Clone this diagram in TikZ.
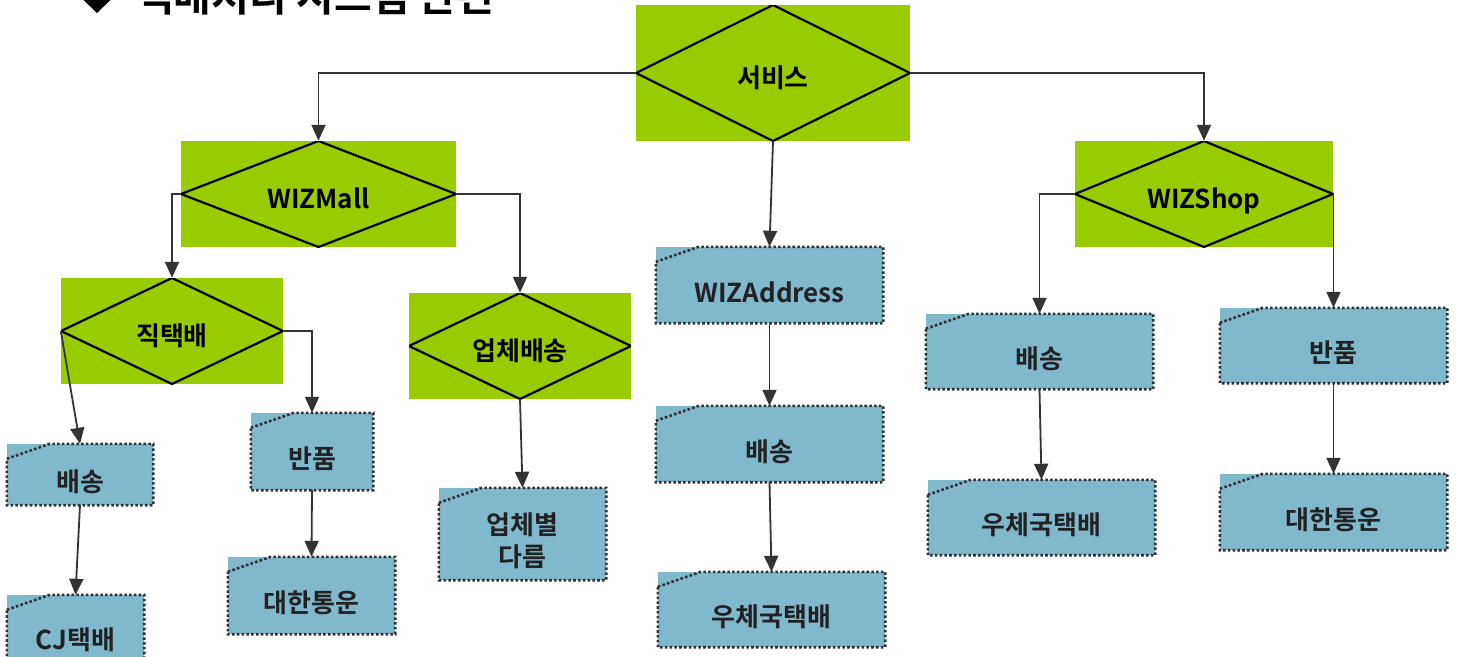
\documentclass[tikz,border=0pt]{standalone}
\usepackage{fontspec}
\setmainfont{Noto Sans CJK KR}[BoldFont={Noto Sans CJK KR Bold}]
\usetikzlibrary{arrows.meta}
\definecolor{dgreen}{HTML}{99CC00}
\definecolor{boxblue}{HTML}{80B8CC}
\definecolor{linegray}{HTML}{333333}
\definecolor{txtdark}{HTML}{222222}
\tikzset{
  decision/.style={rectangle, fill=dgreen, inner sep=0pt, align=center,
    font=\bfseries\fontsize{26}{30}\selectfont, text=black,
    text height=30pt, text depth=2pt,
    path picture={\draw[black, line width=2.2pt]
      (path picture bounding box.north) -- (path picture bounding box.east) --
      (path picture bounding box.south) -- (path picture bounding box.west) -- cycle;}},
  infobase/.style={rectangle, fill=boxblue, inner sep=0pt, align=center,
    font=\bfseries\fontsize{26}{32}\selectfont, text=txtdark},
  infobox/.style={infobase, text height=36pt, text depth=2pt},
  snip/.style={draw=linegray, line width=2.6pt, dash pattern=on 2.6pt off 2.2pt},
  conn/.style={draw=linegray, line width=1.8pt, -{Triangle[width=14pt,length=16pt]}},
}
\newcommand{\snipborder}[1]{%
  \draw[snip] ([yshift=-15pt]#1.north west) -- ([xshift=43pt]#1.north west) -- (#1.north east) -- (#1.south east) -- (#1.south west) -- cycle;}
\begin{document}
\begin{tikzpicture}[x=1pt,y=-1pt]
\useasboundingbox (0,0) rectangle (1458,656);
\clip (0,0) rectangle (1458,656);
\fill[white] (0,0) rectangle (1458,656);
% title (cut off at the top)
\fill[black] (97,-13) -- (110.5,0) -- (97,13) -- (83.5,0) -- cycle;
\node[anchor=base west, inner sep=0pt, font=\bfseries\fontsize{41}{46}\selectfont] (title) at (136,11) {택배처리 시스템 관련};
% decision nodes
\node[decision, minimum width=274pt, minimum height=136pt] (svc) at (773,73) {서비스};
\node[decision, minimum width=275pt, minimum height=106pt] (mall) at (318.5,194) {WIZMall};
\node[decision, minimum width=258pt, minimum height=106pt] (shop) at (1204,194) {WIZShop};
\node[decision, minimum width=222pt, minimum height=106pt] (direct) at (172,331) {직택배};
\node[decision, minimum width=222pt, minimum height=106pt] (vendor) at (520,346) {업체배송};
% info boxes
\node[infobox, minimum width=227pt, minimum height=76pt] (addr) at (769.5,285) {WIZAddress};
\node[infobox, minimum width=227pt, minimum height=76pt] (shipm) at (769.5,444) {배송};
\node[infobox, minimum width=227pt, minimum height=75pt] (postm) at (771.5,609.5) {우체국택배};
\node[infobox, minimum width=227pt, minimum height=75pt] (shipr) at (1039.5,351.5) {배송};
\node[infobox, minimum width=227pt, minimum height=75pt] (postr) at (1041.5,517.5) {우체국택배};
\node[infobox, minimum width=227pt, minimum height=75pt] (retr) at (1333.5,345.5) {반품};
\node[infobox, minimum width=227pt, minimum height=76pt] (kxr) at (1333.5,512) {대한통운};
\node[infobox, minimum width=146pt, minimum height=61pt] (shipl) at (80,474.5) {배송};
\node[infobox, minimum width=137pt, minimum height=74pt] (cj) at (75.5,632) {CJ택배};
\node[infobox, minimum width=122pt, minimum height=77pt] (retl) at (312,451.5) {반품};
\node[infobox, minimum width=167pt, minimum height=77pt] (kxl) at (311.5,595.5) {대한통운};
\node[infobase, minimum width=167pt, minimum height=92pt] (diff) at (522.5,534) {\rule{0pt}{36pt}업체별\\다름};
\foreach \n in {addr,shipm,postm,shipr,postr,retr,kxr,shipl,cj,retl,kxl,diff} {\snipborder{\n}}
% connectors
\draw[conn] (svc.west) -| (mall.north);
\draw[conn] (svc.east) -| (shop.north);
\draw[conn] (svc.south) -- (addr.north);
\draw[conn] (mall.west) -| (direct.north);
\draw[conn] (mall.east) -| (vendor.north);
\draw[conn] (direct.west) -- (shipl.north);
\draw[conn] (direct.east) -| (retl.north);
\draw[conn] (shipl.south) -- (cj.north);
\draw[conn] (retl.south) -- (kxl.north);
\draw[conn] (vendor.south) -- (diff.north);
\draw[conn] (addr.south) -- (shipm.north);
\draw[conn] (shipm.south) -- (postm.north);
\draw[conn] (shop.west) -| (shipr.north);
\draw[conn] (shop.east) -| (retr.north);
\draw[conn] (shipr.south) -- (postr.north);
\draw[conn] (retr.south) -- (kxr.north);
\end{tikzpicture}
\end{document}
